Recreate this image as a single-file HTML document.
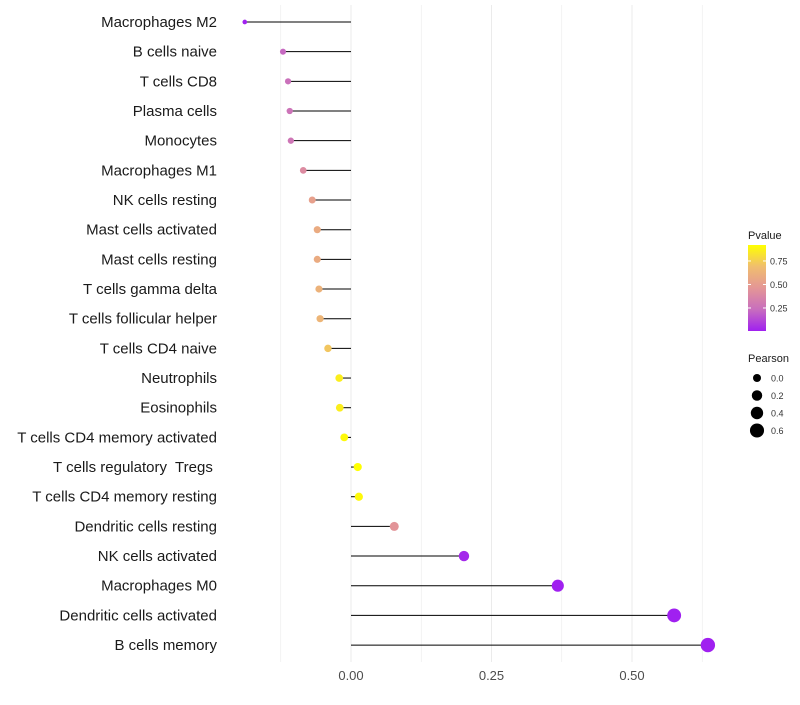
<!DOCTYPE html>
<html><head><meta charset="utf-8"><style>
body{margin:0;background:#fff;font-family:"Liberation Sans",sans-serif}
text{white-space:pre}
</style></head><body>
<svg id="c" width="800" height="700" xmlns="http://www.w3.org/2000/svg"></svg>
<script>
const categories=["Macrophages M2","B cells naive","T cells CD8","Plasma cells","Monocytes","Macrophages M1","NK cells resting","Mast cells activated","Mast cells resting","T cells gamma delta","T cells follicular helper","T cells CD4 naive","Neutrophils","Eosinophils","T cells CD4 memory activated","T cells regulatory  Tregs ","T cells CD4 memory resting","Dendritic cells resting","NK cells activated","Macrophages M0","Dendritic cells activated","B cells memory"];
const pearson=[-0.189,-0.121,-0.112,-0.109,-0.107,-0.085,-0.069,-0.060,-0.060,-0.057,-0.055,-0.041,-0.021,-0.020,-0.012,0.012,0.014,0.077,0.201,0.368,0.575,0.635];
const pvalue=[0.01,0.22,0.25,0.27,0.28,0.40,0.52,0.58,0.58,0.62,0.64,0.72,0.86,0.86,0.90,0.92,0.90,0.45,0.03,0.005,0.005,0.005];
const xTicks=[0,0.25,0.5];
const xTickLabels=["0.00","0.25","0.50"];
const legendP=[0.25,0.5,0.75];
const legendSizes=[0.0,0.2,0.4,0.6];

const svg=document.getElementById('c');
const NS="http://www.w3.org/2000/svg";
function mk(t,a,p){const e=document.createElementNS(NS,t);for(const k in a)e.setAttribute(k,a[k]);(p||svg).appendChild(e);return e;}
const x=v=>351+v*562;
const y=i=>22+i*29.67;
const r=v=>Math.sqrt(Math.max(2,16+56*v));
const pMin=0.005,pMax=0.92;
const stops=[[0,[160,32,240]],[0.25,[200,110,190]],[0.5,[228,150,150]],[0.75,[240,190,110]],[1,[255,255,0]]];
function col(p){let t=(p-pMin)/(pMax-pMin);t=Math.max(0,Math.min(1,t));
 for(let i=0;i<stops.length-1;i++){const[a,ca]=stops[i],[b,cb]=stops[i+1];if(t<=b){const f=(t-a)/(b-a);return 'rgb('+ca.map((c,j)=>Math.round(c+(cb[j]-c)*f)).join(',')+')';}}return 'rgb(255,255,0)';}

[-0.125,0,0.125,0.25,0.375,0.5,0.625].forEach(v=>{
 const g=mk('line',{x1:x(v),x2:x(v),y1:5,y2:662,stroke:'#ebebeb','stroke-width':Number.isInteger(v*4)?1:0.6});
 
 
});
xTicks.forEach((v,i)=>{
 const t=mk('text',{x:x(v),y:680,'text-anchor':'middle','font-size':13,fill:'#4d4d4d'});
 t.textContent=xTickLabels[i];
 
 
});
categories.forEach((c,i)=>{
 const t=mk('text',{x:217,y:y(i)+5,'text-anchor':'end','font-size':15,fill:'#1a1a1a'});
 t.textContent=c;
 
 
 const l=mk('line',{x1:x(0),x2:x(pearson[i]),y1:y(i),y2:y(i),stroke:'#000','stroke-width':1});
 
 
 const d=mk('circle',{cx:x(pearson[i]),cy:y(i),r:r(pearson[i]),fill:col(pvalue[i])});
 
 
});
const lt=mk('text',{x:748,y:239,'font-size':11,fill:'#1a1a1a'});lt.textContent='Pvalue';


const defs=mk('defs',{});const lg=mk('linearGradient',{id:'g',x1:0,y1:1,x2:0,y2:0},defs);
stops.forEach(s=>mk('stop',{offset:s[0],'stop-color':'rgb('+s[1].join(',')+')'},lg));
const cb=mk('rect',{x:748,y:245,width:18,height:86,fill:'url(#g)'});


legendP.forEach(p=>{const yy=331-(p-pMin)/(pMax-pMin)*86;
 mk('line',{x1:748,x2:751,y1:yy,y2:yy,stroke:'#fff'});mk('line',{x1:763,x2:766,y1:yy,y2:yy,stroke:'#fff'});
 const t=mk('text',{x:770,y:yy+3.5,'font-size':9,fill:'#333'});t.textContent=p.toFixed(2);
 
 
});
const st=mk('text',{x:748,y:362,'font-size':11,fill:'#1a1a1a'});st.textContent='Pearson';


legendSizes.forEach((s,i)=>{const yy=378+i*17.5;
 const c=mk('circle',{cx:757,cy:yy,r:r(s),fill:'#000'});
 
 
 const t=mk('text',{x:771,y:yy+3.5,'font-size':9,fill:'#333'});t.textContent=s.toFixed(1);
 
 
});
</script>
</body></html>
